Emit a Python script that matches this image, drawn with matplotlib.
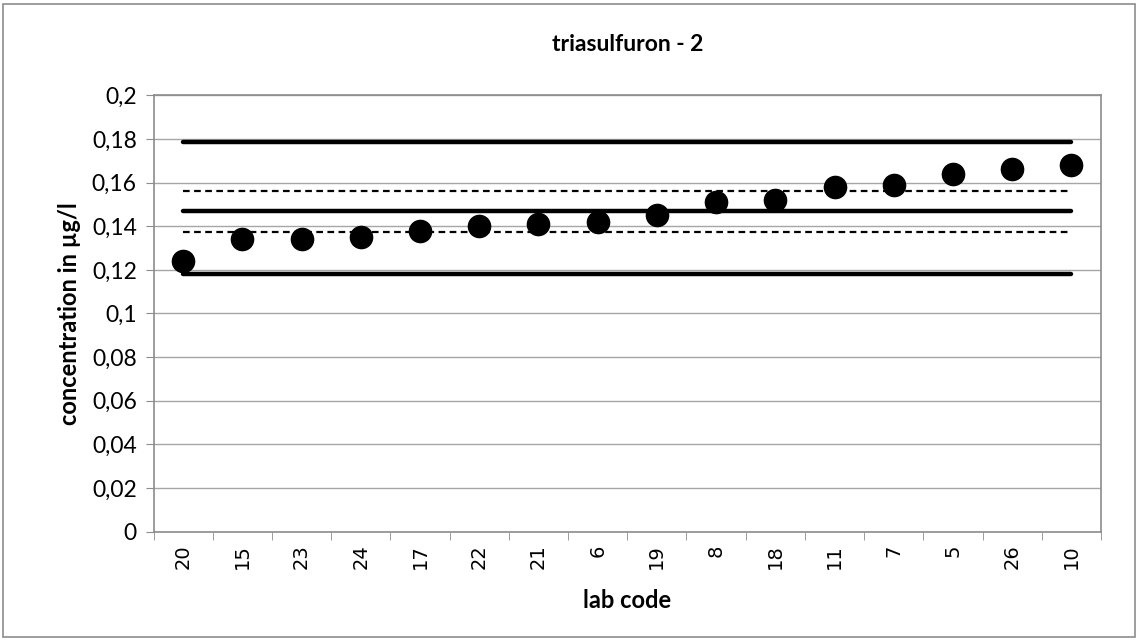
import numpy as np
import matplotlib
matplotlib.use("Agg")
import matplotlib.pyplot as plt
from matplotlib.patches import Rectangle
from matplotlib.ticker import FuncFormatter, FixedLocator

plt.rcParams['font.family'] = ['Lato', 'DejaVu Sans']

# data
lab_codes = ['20', '15', '23', '24', '17', '22', '21', '6', '19', '8',
             '18', '11', '7', '5', '26', '10']
concentration = [0.124, 0.134, 0.134, 0.135, 0.138, 0.140, 0.141, 0.142,
                 0.145, 0.151, 0.152, 0.158, 0.159, 0.164, 0.166, 0.168]
solid_levels = [0.1786, 0.147, 0.1183]
dashed_levels = [0.1563, 0.1375]

fig = plt.figure(figsize=(11.38, 6.42), dpi=100)
ax = fig.add_axes([0.1349, 0.1718, 0.8326, 0.6798])

# outer chart border
fig.patches.append(Rectangle((0.003, 0.008), 0.994, 0.986, transform=fig.transFigure,
                             fill=False, edgecolor='#8c8c8c', linewidth=1.2))

x = np.arange(len(lab_codes))
for lvl in solid_levels:
    ax.plot([x[0], x[-1]], [lvl, lvl], color='black', lw=3.2, solid_capstyle='round', zorder=2)
for lvl in dashed_levels:
    ax.plot([x[0], x[-1]], [lvl, lvl], color='black', lw=1.6, dashes=(3, 2), zorder=2)
ax.plot(x, concentration, 'o', color='black', markersize=16, zorder=3)

ax.set_xlim(-0.5, len(lab_codes) - 0.5)
ax.set_ylim(0, 0.2)
ax.set_yticks(np.arange(0, 0.2001, 0.02))
ax.yaxis.set_major_formatter(FuncFormatter(lambda v, p: ('%g' % round(v, 2)).replace('.', ',')))
ax.grid(axis='y', color='#a6a6a6', lw=1.0)
ax.set_axisbelow(True)

# category ticks between labels, labels at centres
ax.set_xticks(x)
ax.set_xticklabels(lab_codes, rotation=90, fontsize=14, family=['DejaVu Sans'])
ax.tick_params(axis='x', length=0, pad=9)
ax.xaxis.set_minor_locator(FixedLocator(np.arange(-0.5, len(lab_codes), 1)))
ax.tick_params(axis='x', which='minor', length=6, color='#8c8c8c')
ax.tick_params(axis='y', labelsize=16.5, length=6, color='#8c8c8c', pad=6)

for side in ['left', 'bottom', 'right', 'top']:
    ax.spines[side].set_color('#8c8c8c')
    ax.spines[side].set_linewidth(1.2)

ax.set_title('triasulfuron - 2', fontsize=16.5, fontweight='bold', pad=32)
ax.set_xlabel('lab code', fontsize=17, fontweight='bold', labelpad=14)
ax.set_ylabel('concentration in µg/l', fontsize=17, fontweight='bold', labelpad=8)

fig.savefig('out.png', dpi=100)
